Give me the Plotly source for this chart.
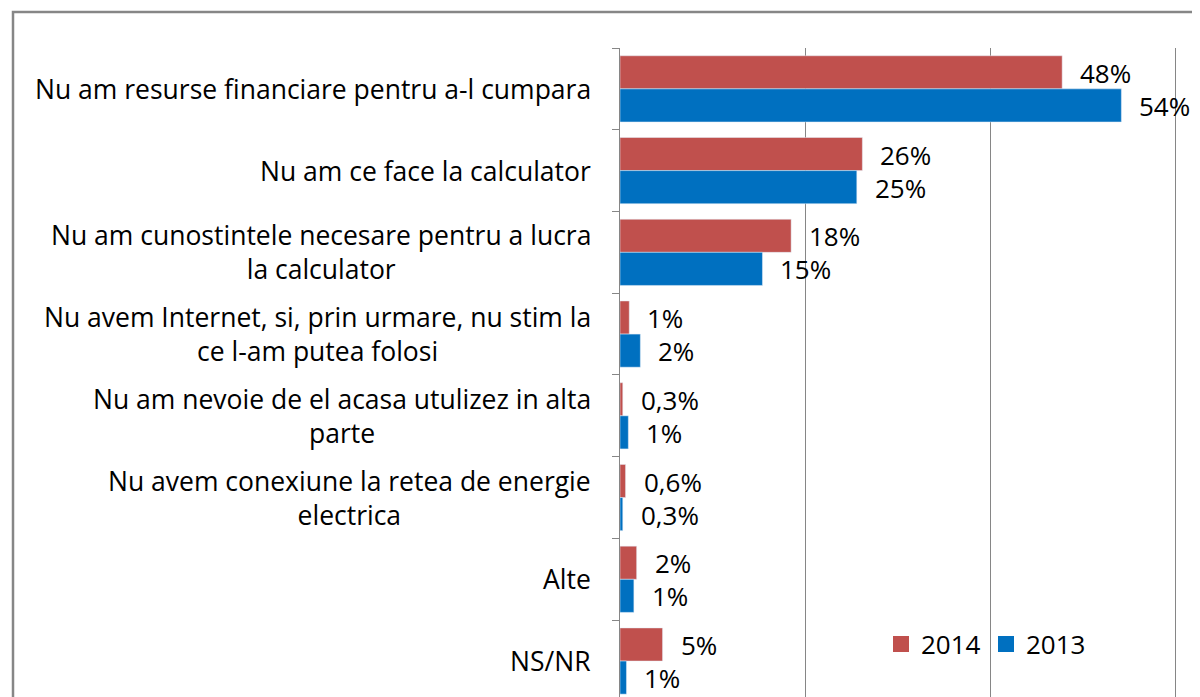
import plotly.graph_objects as go

categories = [
    "Nu am resurse financiare pentru a-l cumpara",
    "Nu am ce face la calculator",
    "Nu am cunostintele necesare pentru a lucra<br>la calculator",
    "Nu avem Internet, si, prin urmare, nu stim la<br>ce l-am putea folosi",
    "Nu am nevoie de el acasa utulizez in alta<br>parte",
    "Nu avem conexiune la retea de energie<br>electrica",
    "Alte",
    "NS/NR",
]
vals_2014 = [47.8, 26.2, 18.5, 1.0, 0.3, 0.6, 1.8, 4.6]
vals_2013 = [54.2, 25.6, 15.4, 2.2, 0.9, 0.3, 1.5, 0.7]
labels_2014 = ["48%", "26%", "18%", "1%", "0,3%", "0,6%", "2%", "5%"]
labels_2013 = ["54%", "25%", "15%", "2%", "1%", "0,3%", "1%", "1%"]
series = ["2014", "2013"]

RED = "#C0504D"
BLUE = "#0070C0"
GRAY = "#868686"
FONT = "Open Sans"
# the page body keeps its default 8px margin, so the figure is 8px smaller
W, H = 1192, 689

pos = list(range(len(categories)))

fig = go.Figure()
fig.add_trace(go.Bar(y=pos, x=vals_2014, orientation="h", name=series[0],
                     marker=dict(color=RED), hoverinfo="skip", showlegend=False))
fig.add_trace(go.Bar(y=pos, x=vals_2013, orientation="h", name=series[1],
                     marker=dict(color=BLUE), hoverinfo="skip", showlegend=False))

# legend-only entries with bigger square keys
for name, col in zip(series, [RED, BLUE]):
    fig.add_trace(go.Scatter(x=[None], y=[None], mode="markers", name=name,
                             marker=dict(symbol="square", size=16, color=col)))

# category labels, lines centred, block right-aligned against the axis
for i, cat in enumerate(categories):
    fig.add_annotation(x=585 / W, xref="paper", y=i, yref="y", text=cat,
                       xanchor="right", yanchor="middle", align="center",
                       showarrow=False, font=dict(size=26.5, color="black"))

# value labels just past the end of each bar
for i in pos:
    fig.add_annotation(x=vals_2014[i], y=i, text=labels_2014[i], xanchor="left",
                       xshift=16, yshift=16, showarrow=False,
                       font=dict(size=26, color="black"))
    fig.add_annotation(x=vals_2013[i], y=i, text=labels_2013[i], xanchor="left",
                       xshift=16, yshift=-17, showarrow=False,
                       font=dict(size=26, color="black"))

# chart border (right and bottom edges fall outside the picture)
fig.add_shape(type="rect", xref="paper", yref="paper",
              x0=5 / W, x1=1.05, y0=-0.05, y1=1 - 4 / H,
              line=dict(color=GRAY, width=2.5), layer="below")

fig.update_layout(
    width=W, height=H,
    margin=dict(l=0, r=0, t=0, b=0),
    paper_bgcolor="white", plot_bgcolor="white",
    font=dict(family=FONT, size=26, color="black"),
    barmode="group", bargap=0.19, bargroupgap=0,
    xaxis=dict(domain=[612 / W, 1], range=[0, 62.7], showticklabels=False,
               showgrid=True, gridcolor=GRAY, gridwidth=1, tick0=0, dtick=20,
               zeroline=False, showline=False, ticks=""),
    yaxis=dict(domain=[0, 1 - 40 / H], range=[7.44, -0.5], showticklabels=False,
               showgrid=False, zeroline=False, showline=True, linecolor=GRAY,
               linewidth=1, tickmode="array",
               tickvals=[p - 0.5 for p in pos] + [len(pos) - 0.5],
               ticks="outside", ticklen=7, tickcolor=GRAY),
    legend=dict(orientation="h", x=873 / W, y=1 - 636 / H,
                xanchor="left", yanchor="middle", font=dict(size=26),
                bgcolor="rgba(0,0,0,0)", itemclick=False,
                entrywidth=60, entrywidthmode="pixels"),
)

fig.write_html("out.html")
